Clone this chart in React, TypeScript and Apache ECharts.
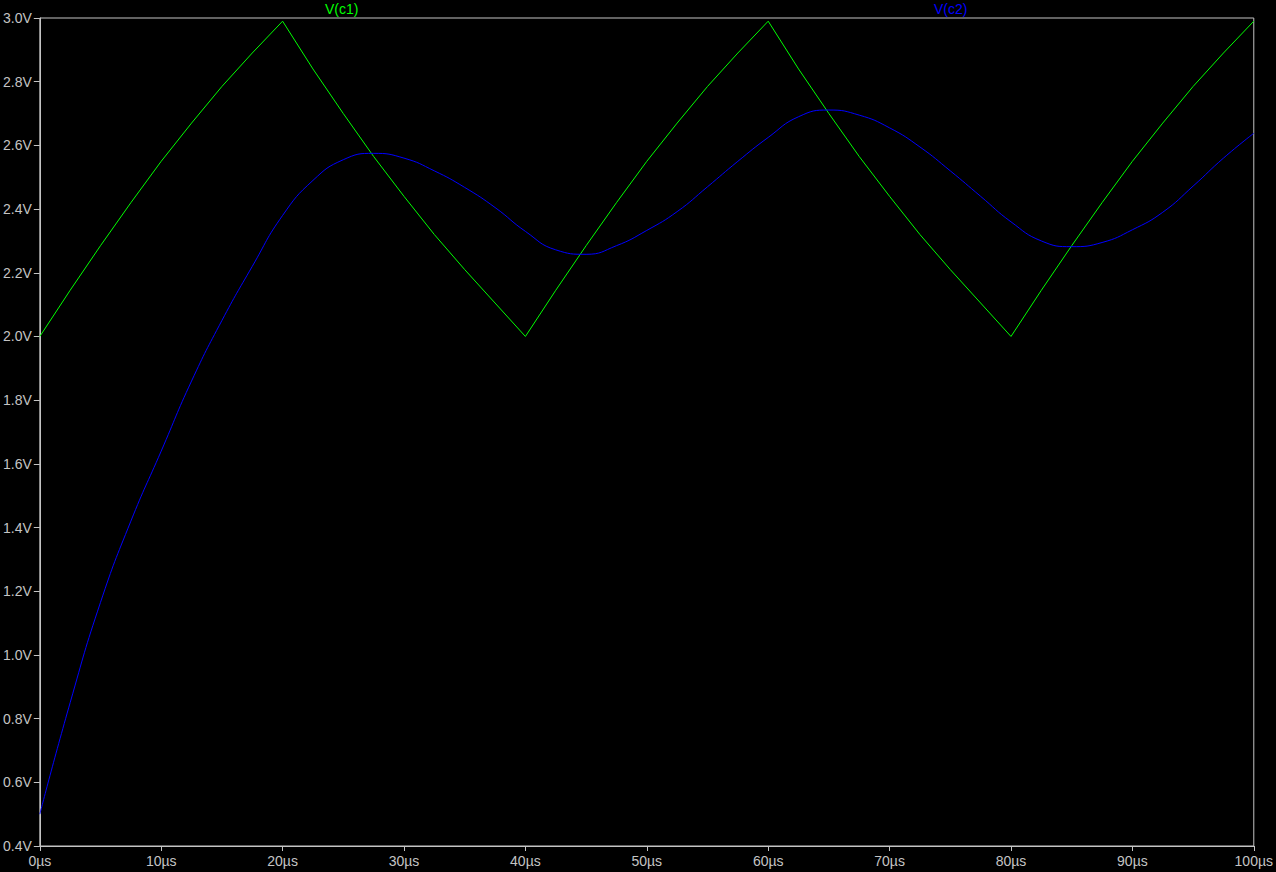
import React, { useEffect, useRef } from "react";
import * as echarts from "echarts";

const times = [0, 2.5, 5, 7.5, 10, 12.5, 15, 17.5, 20, 22.5, 25, 27.5, 30, 32.5, 35, 37.5, 40, 42.5, 45, 47.5, 50, 52.5, 55, 57.5, 60, 62.5, 65, 67.5, 70, 72.5, 75, 77.5, 80, 82.5, 85, 87.5, 90, 92.5, 95, 97.5, 100];

const vc1 = [2.0, 2.145, 2.285, 2.42, 2.55, 2.67, 2.785, 2.89, 2.99, 2.84, 2.7, 2.565, 2.44, 2.32, 2.21, 2.105, 2.0, 2.145, 2.285, 2.42, 2.55, 2.67, 2.785, 2.89, 2.99, 2.84, 2.7, 2.565, 2.44, 2.32, 2.21, 2.105, 2.0, 2.145, 2.285, 2.42, 2.55, 2.67, 2.785, 2.89, 2.99];

const vc2 = [0.5, 0.85, 1.165, 1.42, 1.64, 1.86, 2.05, 2.22, 2.38, 2.49, 2.555, 2.575, 2.56, 2.52, 2.468, 2.405, 2.33, 2.272, 2.258, 2.285, 2.333, 2.392, 2.47, 2.55, 2.625, 2.69, 2.711, 2.695, 2.655, 2.595, 2.52, 2.44, 2.36, 2.3, 2.282, 2.295, 2.335, 2.39, 2.472, 2.56, 2.638];

const seriesNames = ["V(c1)", "V(c2)"];

export default function App() {
  const ref = useRef<HTMLDivElement>(null);
  useEffect(() => {
    if (!ref.current) return;
    const chart = echarts.init(ref.current, null, { renderer: "svg" });
    const grey = "#c4c4c4";
    const font = "'Liberation Sans', Arial, sans-serif";
    chart.setOption({
      animation: false,
      backgroundColor: "#000000",
      grid: { left: 36, right: 20, top: 18, bottom: 26, show: true, borderColor: grey, borderWidth: 1, backgroundColor: "transparent" },
      xAxis: {
        type: "value",
        min: 0,
        max: 100,
        interval: 10,
        axisLine: { show: true, lineStyle: { color: grey, width: 1 } },
        axisTick: { show: true, length: 5, lineStyle: { color: grey } },
        splitLine: { show: false },
        axisLabel: { color: grey, fontSize: 14, fontFamily: font, margin: 8, formatter: (v: number) => `${v}µs` },
      },
      yAxis: {
        type: "value",
        min: 0.4,
        max: 3.0,
        interval: 0.2,
        axisLine: { show: true, lineStyle: { color: grey, width: 1 } },
        axisTick: { show: true, length: 6, lineStyle: { color: grey } },
        splitLine: { show: false },
        axisLabel: { color: grey, fontSize: 14, fontFamily: font, margin: 8, formatter: (v: number) => `${v.toFixed(1)}V` },
      },
      graphic: [
        { type: "text", left: 325, top: 2, style: { text: seriesNames[0], fill: "#00ff00", fontSize: 14, fontFamily: font } },
        { type: "text", left: 934, top: 2, style: { text: seriesNames[1], fill: "#0000ff", fontSize: 14, fontFamily: font } },
      ],
      series: [
        {
          name: seriesNames[0],
          type: "line",
          showSymbol: false,
          smooth: false,
          lineStyle: { color: "#00ff00", width: 1 },
          itemStyle: { color: "#00ff00" },
          data: times.map((t, i) => [t, vc1[i]]),
        },
        {
          name: seriesNames[1],
          type: "line",
          showSymbol: false,
          smooth: 0.5,
          lineStyle: { color: "#0000ff", width: 1 },
          itemStyle: { color: "#0000ff" },
          data: times.map((t, i) => [t, vc2[i]]),
        },
      ],
    });
    return () => chart.dispose();
  }, []);
  return (
    <div
      ref={ref}
      style={{ position: "fixed", left: 0, top: 0, width: 1276, height: 872, background: "#000" }}
    />
  );
}
